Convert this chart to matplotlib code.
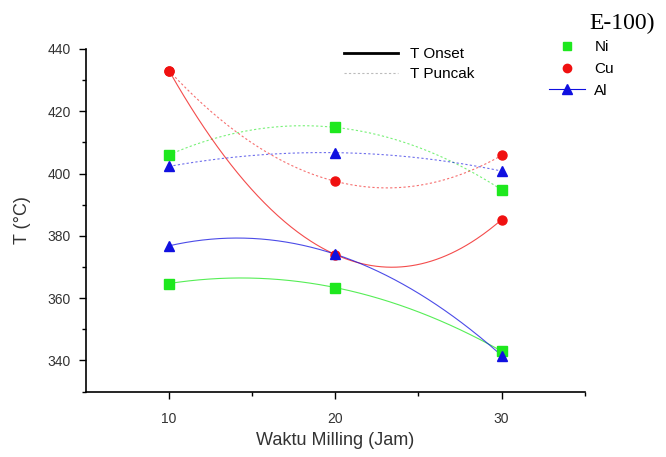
import numpy as np
import matplotlib
matplotlib.use('Agg')
import matplotlib.pyplot as plt
from matplotlib.lines import Line2D

# waktu milling (jam)
waktu = [10, 20, 30]

# T onset
ni_onset = [364.7, 363.4, 343.0]
cu_onset = [433.0, 374.0, 385.2]
al_onset = [376.8, 374.1, 341.6]

# T puncak
ni_puncak = [406.0, 414.8, 394.8]
cu_puncak = [433.0, 397.5, 405.8]
al_puncak = [402.3, 406.7, 400.8]

series = [
    ('Ni', '#1ee81e', 's', ni_onset, ni_puncak),
    ('Cu', '#f01010', 'o', cu_onset, cu_puncak),
    ('Al', '#1010e0', '^', al_onset, al_puncak),
]

plt.rcParams['font.family'] = ['Liberation Sans', 'DejaVu Sans']

fig = plt.figure(figsize=(6.66, 4.57), dpi=100)
ax = fig.add_axes([0.129, 0.143, 0.749, 0.750])


def smooth(x, y):
    # quadratic through the three points, like the origin spline
    c = np.polyfit(x, y, 2)
    xs = np.linspace(min(x), max(x), 200)
    return xs, np.polyval(c, xs)


for name, col, mk, onset, puncak in series:
    xs, ys = smooth(waktu, onset)
    ax.plot(xs, ys, '-', color=col, lw=0.8, alpha=0.75)
    xs, ys = smooth(waktu, puncak)
    ax.plot(xs, ys, linestyle=(0, (2, 2)), color=col, lw=0.8, alpha=0.6)
    ax.plot(waktu, onset, mk, color=col, ms=6.5, mec=col, zorder=3)
    ax.plot(waktu, puncak, mk, color=col, ms=6.5, mec=col, zorder=3)

ax.set_xlim(5, 35)
ax.set_ylim(332.5, 440)
ax.set_xticks([10, 20, 30])
ax.set_xticks([15, 25, 35], minor=True)
ax.set_yticks(range(340, 441, 20))
ax.set_yticks(range(330, 441, 10), minor=True)
ax.spines['top'].set_visible(False)
ax.spines['right'].set_visible(False)
for s in ['left', 'bottom']:
    ax.spines[s].set_linewidth(1.2)
ax.tick_params(which='major', length=5, width=1, labelsize=10, labelcolor='#333333')
ax.tick_params(axis='x', which='major', pad=10)
ax.tick_params(axis='y', which='major', pad=6)
ax.tick_params(which='minor', length=3, width=1)
ax.set_xlabel('Waktu Milling (Jam)', fontsize=13, color='#333333', labelpad=4)
ax.set_ylabel('T (°C)', fontsize=13, color='#333333', labelpad=12)

h1 = [Line2D([], [], color='black', lw=2),
      Line2D([], [], color='#bbbbbb', lw=0.8, linestyle=(0, (2, 2)))]
leg1 = ax.legend(h1, ['T Onset', 'T Puncak'], loc='upper left',
                 bbox_to_anchor=(0.49, 1.045), frameon=False, fontsize=11,
                 handlelength=3.5, labelspacing=0.4, handletextpad=0.8)
ax.add_artist(leg1)

h2 = [Line2D([], [], marker='s', color='#1ee81e', ls='none', ms=6),
      Line2D([], [], marker='o', color='#f01010', ls='none', ms=6),
      Line2D([], [], marker='^', color='#1010e0', lw=0.8, ms=7)]
ax.legend(h2, ['Ni', 'Cu', 'Al'], loc='upper left', bbox_to_anchor=(0.9, 1.065),
          frameon=False, fontsize=11, handlelength=2.4, labelspacing=0.5,
          handletextpad=0.6)

fig.text(589 / 666, 1 - 29 / 457, 'E-100)', family='Liberation Serif',
         fontsize=17, ha='left', va='baseline')

fig.savefig('out.png', dpi=100)
